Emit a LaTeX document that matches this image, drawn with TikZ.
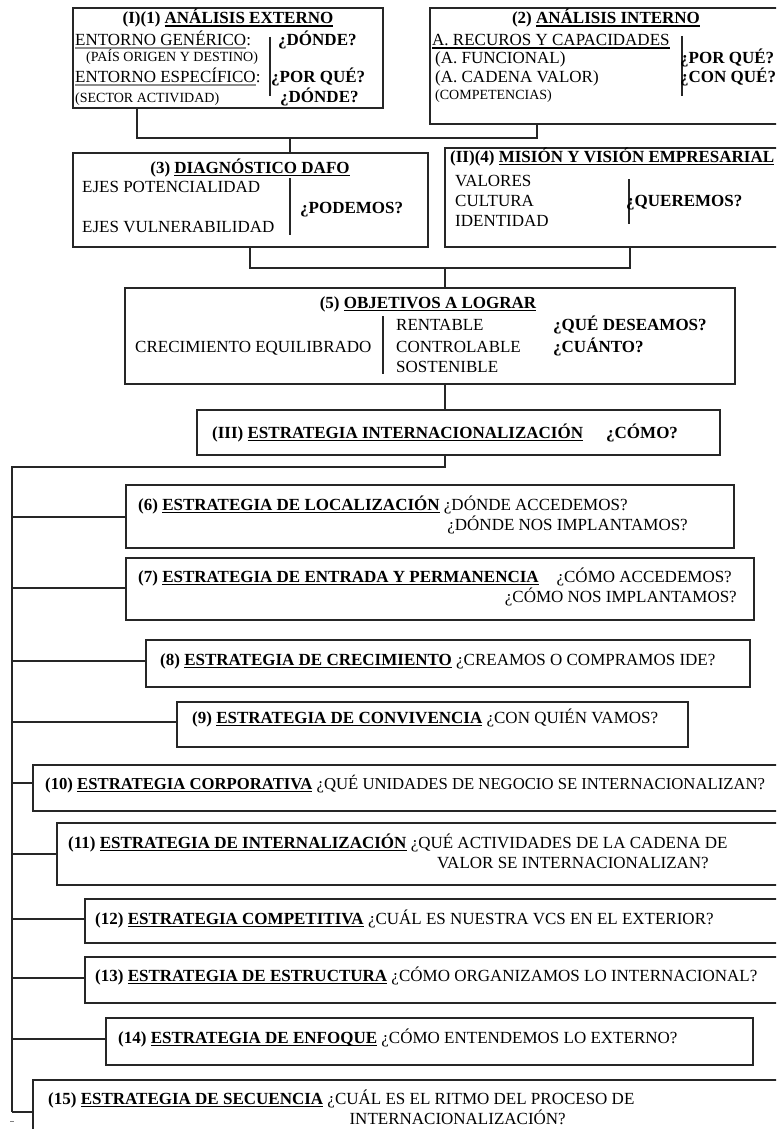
\documentclass[tikz,border=0pt]{standalone}
\usepackage{fontspec}
\setmainfont{Liberation Serif}
\usetikzlibrary{fit}
\newsavebox\ulbox
\newcommand\myul[1]{\sbox\ulbox{#1}\rlap{\rule[-2.8pt]{\wd\ulbox}{1.3pt}}\usebox\ulbox}
\newcommand\gul[1]{\sbox\ulbox{#1}\rlap{\textcolor{black!45}{\rule[-3.2pt]{\wd\ulbox}{1.8pt}}}\usebox\ulbox}
\newcommand\fs{\fontsize{17}{20}\selectfont}
\newcommand\fsm{\fontsize{14}{16}\selectfont}
\tikzset{
  box/.style={draw=black!85, line width=1.6pt, inner sep=0pt},
  txt/.style={inner sep=0pt, anchor=base west, font=\fs},
  ctxt/.style={inner sep=0pt, anchor=base, font=\fs},
  rtxt/.style={inner sep=0pt, anchor=base east, font=\fs},
  smtxt/.style={inner sep=0pt, anchor=base west, font=\fsm},
  lnk/.style={line width=1.5pt, draw=black!85},
  sepline/.style={line width=1.8pt, draw=black!85},
}
\begin{document}
\begin{tikzpicture}[x=1pt,y=-1pt]
\useasboundingbox (0,0) rectangle (776,1129);
\clip (0,0) rectangle (776,1129);
\fill[white] (0,0) rectangle (776,1129);

% ---------- Box 1
\node[box, fit={(73,8) (383,108)}] (b1) {};
\node[ctxt] (b1t) at (228,24) {\textbf{(I)(1) \myul{ANÁLISIS EXTERNO}}};
\node[txt] (b1a) at (75,46) {\gul{ENTORNO GENÉRICO}:};
\node[smtxt] (b1b) at (86,62) {(PAÍS ORIGEN Y DESTINO)};
\node[txt] (b1c) at (75,83) {\gul{ENTORNO ESPECÍFICO}:};
\node[smtxt] (b1d) at (75,103) {(SECTOR ACTIVIDAD)};
\draw[sepline] (270,37) -- (270,96);
\node[txt] (b1q1) at (278,46) {\textbf{¿DÓNDE?}};
\node[txt] (b1q2) at (271,83) {\textbf{¿POR QUÉ?}};
\node[txt] (b1q3) at (280,103) {\textbf{¿DÓNDE?}};

% ---------- Box 2
\node[box, fit={(430,8) (790,124)}] (b2) {};
\node[ctxt] (b2t) at (606,24) {\textbf{(2) \myul{ANÁLISIS INTERNO}}};
\node[txt] (b2a) at (432,46) {\myul{A. RECUROS Y CAPACIDADES}};
\node[txt] (b2b) at (435,64) {(A. FUNCIONAL)};
\node[txt] (b2c) at (435,83) {(A. CADENA VALOR)};
\node[smtxt] (b2d) at (435,100) {(COMPETENCIAS)};
\draw[sepline] (682,36) -- (682,96);
\node[txt] (b2q1) at (680,64) {\textbf{¿POR QUÉ?}};
\node[txt] (b2q2) at (680,83) {\textbf{¿CON QUÉ?}};

% ---------- Box 3
\node[box, fit={(73,153) (428,247)}] (b3) {};
\node[ctxt] (b3t) at (250,173) {\textbf{(3) \myul{DIAGNÓSTICO DAFO}}};
\node[txt] (b3a) at (82,192) {EJES POTENCIALIDAD};
\node[txt] (b3b) at (82,232) {EJES VULNERABILIDAD};
\draw[sepline] (290,178) -- (290,235);
\node[txt] (b3q) at (300,213) {\textbf{¿PODEMOS?}};

% ---------- Box 4
\node[box, fit={(445,148) (790,247)}] (b4) {};
\node[txt] (b4t) at (450,162) {\textbf{(II)(4) \myul{MISIÓN Y VISIÓN EMPRESARIAL}}};
\node[txt] (b4a) at (455,186) {VALORES};
\node[txt] (b4b) at (455,206) {CULTURA};
\node[txt] (b4c) at (455,226) {IDENTIDAD};
\draw[sepline] (629,179) -- (629,224);
\node[txt] (b4q) at (626,206) {\textbf{¿QUEREMOS?}};

% ---------- Box 5
\node[box, fit={(125,288) (735,384)}] (b5) {};
\node[ctxt] (b5t) at (428,308) {\textbf{(5) \myul{OBJETIVOS A LOGRAR}}};
\node[txt] (b5a) at (135,352) {CRECIMIENTO EQUILIBRADO};
\draw[sepline] (383,316) -- (383,374);
\node[txt] (b5b) at (396,330) {RENTABLE};
\node[txt] (b5c) at (396,352) {CONTROLABLE};
\node[txt] (b5d) at (396,372) {SOSTENIBLE};
\node[txt] (b5q1) at (553,330) {\textbf{¿QUÉ DESEAMOS?}};
\node[txt] (b5q2) at (553,352) {\textbf{¿CUÁNTO?}};

% ---------- Box III
\node[box, fit={(197,410) (720,455)}] (b3s) {};
\node[txt] (b3st) at (212,438) {\textbf{(III) \myul{ESTRATEGIA INTERNACIONALIZACIÓN}}};
\node[txt] (b3sq) at (606,438) {\textbf{¿CÓMO?}};

% ---------- Strategy boxes
\node[box, fit={(126,485) (734,548)}] (s6) {};
\node[txt] (s6t) at (138,510) {\textbf{(6) \myul{ESTRATEGIA DE LOCALIZACIÓN}} ¿DÓNDE ACCEDEMOS?};
\node[rtxt] (s6u) at (688,530) {¿DÓNDE NOS IMPLANTAMOS?};

\node[box, fit={(126,558) (754,620)}] (s7) {};
\node[txt] (s7t) at (138,582) {\textbf{(7) \myul{ESTRATEGIA DE ENTRADA Y PERMANENCIA}}};
\node[rtxt] (s7q) at (732,582) {¿CÓMO ACCEDEMOS?};
\node[rtxt] (s7u) at (737,602) {¿CÓMO NOS IMPLANTAMOS?};

\node[box, fit={(146,640) (750,687)}] (s8) {};
\node[txt] (s8t) at (160,665) {\textbf{(8) \myul{ESTRATEGIA DE CRECIMIENTO}} ¿CREAMOS O COMPRAMOS IDE?};

\node[box, fit={(177,702) (688,747)}] (s9) {};
\node[txt] (s9t) at (192,723) {\textbf{(9) \myul{ESTRATEGIA DE CONVIVENCIA}} ¿CON QUIÉN VAMOS?};

\node[box, fit={(33,765) (790,811)}] (s10) {};
\node[txt, font=\fontsize{16.7}{20}\selectfont] (s10t) at (45,789) {\textbf{(10) \myul{ESTRATEGIA CORPORATIVA}} ¿QUÉ UNIDADES DE NEGOCIO SE INTERNACIONALIZAN?};

\node[box, fit={(57,823) (790,885)}] (s11) {};
\node[txt] (s11t) at (68,848) {\textbf{(11) \myul{ESTRATEGIA DE INTERNALIZACIÓN}} ¿QUÉ ACTIVIDADES DE LA CADENA DE};
\node[rtxt] (s11u) at (709,868) {VALOR SE INTERNACIONALIZAN?};

\node[box, fit={(85,899) (790,943)}] (s12) {};
\node[txt] (s12t) at (95,924) {\textbf{(12) \myul{ESTRATEGIA COMPETITIVA}} ¿CUÁL ES NUESTRA VCS EN EL EXTERIOR?};

\node[box, fit={(85,957) (790,1003)}] (s13) {};
\node[txt] (s13t) at (95,981) {\textbf{(13) \myul{ESTRATEGIA DE ESTRUCTURA}} ¿CÓMO ORGANIZAMOS LO INTERNACIONAL?};

\node[box, fit={(106,1018) (753,1065)}] (s14) {};
\node[txt] (s14t) at (118,1043) {\textbf{(14) \myul{ESTRATEGIA DE ENFOQUE}} ¿CÓMO ENTENDEMOS LO EXTERNO?};

\node[box, fit={(33,1080) (790,1145)}] (s15) {};
\node[txt] (s15t) at (48,1104) {\textbf{(15) \myul{ESTRATEGIA DE SECUENCIA}} ¿CUÁL ES EL RITMO DEL PROCESO DE};
\node[rtxt] (s15u) at (566,1124) {INTERNACIONALIZACIÓN?};

% ---------- Connectors
\coordinate (j12) at (290,138);
\draw[lnk] (b1.south -| 137,0) |- (j12) -| (b2.south -| 537,0);
\draw[lnk] (j12) -- (b3.north -| 290,0);
\coordinate (j34) at (445,268);
\draw[lnk] (b3.south -| 250,0) |- (j34) -| (b4.south -| 630,0);
\draw[lnk] (j34) -- (b5.north -| 445,0);
\draw[lnk] (b5.south -| 445,0) -- (b3s.north -| 445,0);
\coordinate (top) at (12,467);
\coordinate (bot) at (12,1112);
\draw[lnk] (b3s.south -| 445,0) |- (top) -- (bot);
\foreach \n/\y in {s6/517, s7/588, s8/661, s9/722, s10/783, s11/854, s12/919, s13/978, s14/1039, s15/1112}
  \draw[lnk] (12,\y) -- (\n.west |- 0,\y);
\draw[black!50, line width=0.8pt] (10,1121) -- (14,1121);
\end{tikzpicture}
\end{document}
